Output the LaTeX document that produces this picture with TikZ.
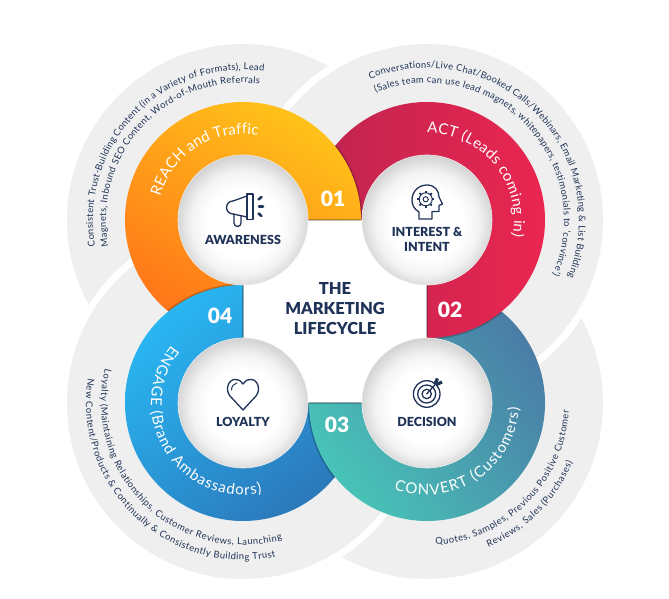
\documentclass[tikz,border=0pt]{standalone}
\usepackage{fontspec}
\setmainfont{Lato}
\newfontfamily\heavyfont{Lato Black}
\usetikzlibrary{decorations.text}
\definecolor{navy}{HTML}{1F3358}
\definecolor{ringgrey}{HTML}{EFEFEF}
\definecolor{amberA}{HTML}{FFC219}
\definecolor{amberB}{HTML}{FF7519}
\definecolor{redA}{HTML}{BE2450}
\definecolor{redB}{HTML}{EA2650}
\definecolor{tealA}{HTML}{48C4B8}
\definecolor{tealB}{HTML}{4A7CA6}
\definecolor{blueA}{HTML}{29B6F2}
\definecolor{blueB}{HTML}{2B78BA}
\pgfdeclareradialshading{hubglow}{\pgfpoint{0bp}{-2bp}}{color(0bp)=(white); color(14bp)=(white); color(20bp)=(black!5); color(27bp)=(black!20); color(50bp)=(black!20)}
\newcommand{\petal}[3]{
    \draw[petalshadow] (#1) ++(#2:118) arc[start angle=#2, delta angle=39, radius=118];
    \shade[#3] (#1) -- ++(#2:118) arc[start angle=#2, delta angle=270, radius=118] -- cycle;
    \draw[petaledge] (#1) -- ++(#2:118);
}
\newcommand{\arctext}[6]{
    \path[decorate, decoration={text along path, text align={fit to path}, text={|#5|#6}}]
        (#1) ++(#3:#2) arc[start angle=#3, end angle=#4, radius=#2];
}
\newcommand{\smallarc}{\fontsize{9.4}{11}\selectfont\color{navy}}
\newcommand{\bigarc}{\fontsize{15}{17}\selectfont\color{white}}

\begin{document}
\begin{tikzpicture}[
    x=1pt, y=1pt,
    greydisc/.style={fill=ringgrey},
    petalshadow/.style={black, opacity=.22, line width=3},
    petaledge/.style={black, opacity=.25, line width=1.2},
    amberpetal/.style={left color=amberB, right color=amberA, shading angle=150},
    redpetal/.style={left color=redA, right color=redB},
    tealpetal/.style={left color=tealA, right color=tealB, shading angle=125},
    bluepetal/.style={left color=blueA, right color=blueB, shading angle=40},
    hub/.style={circle, minimum size=130, inner sep=0, shading=hubglow, draw=black!8, line width=.6},
    hublabel/.style={text=navy, font=\fontsize{12.5}{15}\heavyfont\selectfont, align=center},
    number/.style={text=white, font=\fontsize{21}{24}\heavyfont\selectfont},
    title/.style={text=navy, font=\fontsize{16.5}{20}\heavyfont\selectfont, align=center},
    icon/.style={navy, line width=1.3, line cap=round, line join=round}
]
    \useasboundingbox (0,0) rectangle (669,599);
    \coordinate (tl) at (243,379);
    \coordinate (tr) at (427,379);
    \coordinate (bl) at (243,196);
    \coordinate (br) at (427,196);

    \fill[greydisc] (tl) circle[radius=176];
    \fill[greydisc] (br) circle[radius=176];
    \fill[white] (tr) circle[radius=183];
    \fill[white] (bl) circle[radius=183];
    \fill[greydisc] (tr) circle[radius=176];
    \fill[greydisc] (bl) circle[radius=176];
    \fill[white] (tl) rectangle (br);

    \petal{bl}{90}{bluepetal}
    \petal{br}{180}{tealpetal}
    \petal{tr}{270}{redpetal}
    \petal{tl}{0}{amberpetal}
    \draw[petalshadow] (bl) ++(90:118) arc[start angle=90, delta angle=39, radius=118];
    \begin{scope}
        \clip (bl) -- ++(90:118) arc[start angle=90, delta angle=90, radius=118] -- cycle;
        \petal{bl}{90}{bluepetal}
    \end{scope}

    \node[hub] (awareness) at (tl) {};
    \node[hub] (interest) at (tr) {};
    \node[hub] (loyalty) at (bl) {};
    \node[hub] (decision) at (br) {};

    \node[hublabel] (awarenesstext) at (243,359) {AWARENESS};
    \node[hublabel] (interesttext) at (427,359.5) {INTEREST \&\\INTENT};
    \node[hublabel] (loyaltytext) at (243,177) {LOYALTY};
    \node[hublabel] (decisiontext) at (427,177) {DECISION};

    \node[number] (one) at (333,400) {01};
    \node[number] (two) at (450,289) {02};
    \node[number] (three) at (337,174) {03};
    \node[number] (four) at (220,283) {04};
    \node[title] (lifecycle) at (335,290.5) {THE\\MARKETING\\LIFECYCLE};

    \begin{scope}[shift={(tl)}, icon]
        \draw (4,0.5) rectangle (10,26);
        \draw (4,24) -- (-10,19) arc[start angle=90, end angle=270, radius=6.5] -- (4,3);
        \draw (-9,6) -- (-9,-3) arc[start angle=180, end angle=360, radius=3.5] -- (-2,4);
        \draw[line width=2.6] (15.5,20.5) -- (18.5,23);
        \draw[line width=2.6] (16,13.5) -- (20,13.5);
        \draw[line width=2.6] (15.5,6.5) -- (18.5,4);
    \end{scope}

    \begin{scope}[shift={(tr)}, icon]
        \draw (-8,1) -- (-8,8) .. controls (-13,11) and (-15,15) .. (-15,20) .. controls (-15,29) and (-8,35) .. (0,35) .. controls (8,35) and (12,29) .. (12,23) -- (15.5,16) -- (12,14.5) -- (12,8.5) -- (5,8.5) -- (5,1) -- cycle;
        \draw[line width=1] (-1.3,20.7) circle[radius=6.5];
        \draw[line width=1] (-1.3,20.7) circle[radius=2.6];
        \foreach \a in {0,45,...,315}
            \draw[line width=1.8, line cap=butt] (-1.3,20.7) ++(\a:6.5) -- ++(\a:2.2);
    \end{scope}

    \begin{scope}[shift={(bl)}, icon]
        \draw (0,-7) -- (-13,7) .. controls (-18,13) and (-15,23.5) .. (-8,23.5) .. controls (-4,23.5) and (-1,21.5) .. (0,19) .. controls (1,21.5) and (4,23.5) .. (8,23.5) .. controls (15,23.5) and (18,13) .. (13,7) -- cycle;
        \draw[line width=1] (-11.5,13) .. controls (-11.5,17) and (-9,19.5) .. (-6,20);
    \end{scope}

    \begin{scope}[shift={(br)}, icon]
        \draw (-0.3,9) circle[radius=13.3];
        \draw (-0.3,9) circle[radius=9];
        \draw (-0.3,9) circle[radius=4.7];
        \draw (-0.3,9) -- (9.5,20);
        \draw[line width=3.2, line cap=butt] (8,19) -- (10.5,24.5);
        \draw[line width=3.2, line cap=butt] (9.5,18.5) -- (15,21);
    \end{scope}

    \arctext{tl}{150}{190}{82}{\smallarc}{Consistent Trust-Building Content (in a Variety of Formats), Lead}
    \arctext{tl}{137}{191}{83}{\smallarc}{Magnets, Inbound SEO Content, Word-of-Mouth Referrals}
    \arctext{tr}{152}{112}{-22}{\smallarc}{Conversations/Live Chat/Booked Calls/Webinars, Email Marketing {\&} List Building}
    \arctext{tr}{137}{112}{-23.5}{\smallarc}{(Sales team can use lead magnets, whitepapers, testimonials to 'convince')}
    \arctext{bl}{142}{166}{286}{\smallarc}{Loyalty (Maintaining Relationships, Customer Reviews, Launching}
    \arctext{bl}{157}{171}{282}{\smallarc}{New Content/Products {\&} Continually {\&} Consistently Building Trust}
    \arctext{br}{142}{273.5}{357}{\smallarc}{Quotes, Samples, Previous Positive Customer}
    \arctext{br}{157}{293}{338}{\smallarc}{Reviews, Sales (Purchases)}

    \arctext{tl}{86}{164}{80}{\bigarc}{REACH and Traffic}
    \arctext{tr}{87}{90}{-11}{\bigarc}{ACT (Leads coming in)}
    \arctext{bl}{92}{141}{282}{\bigarc}{ENGAGE (Brand Ambassadors)}
    \arctext{br}{92}{249}{357}{\bigarc}{CONVERT (Customers)}
\end{tikzpicture}
\end{document}
